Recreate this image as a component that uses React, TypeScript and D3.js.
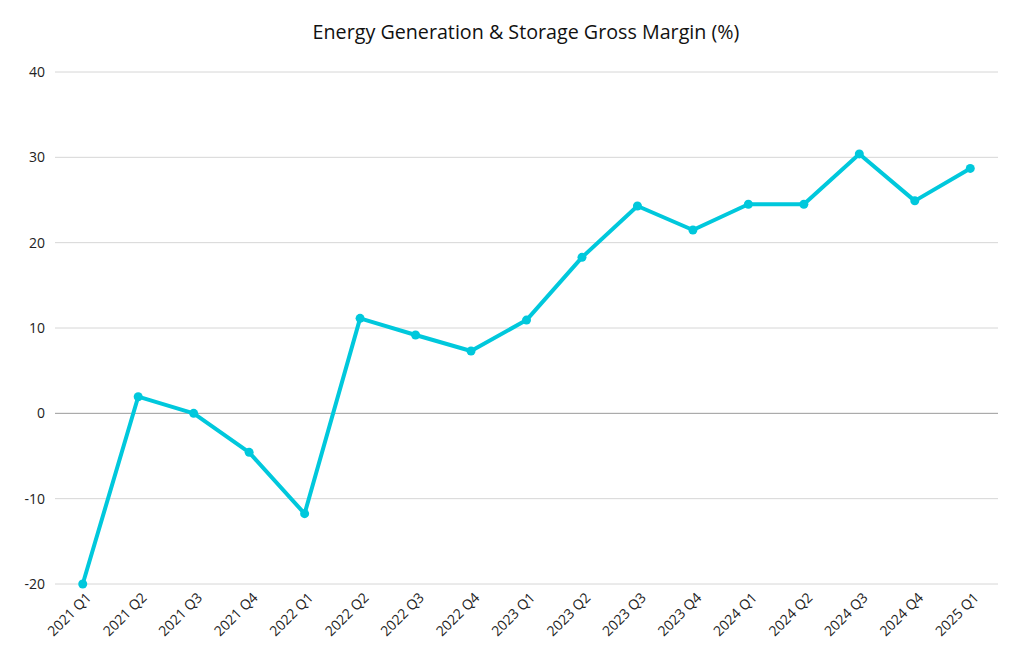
import { useEffect, useRef } from 'react'
import * as d3 from 'd3'

const quarters = [
  '2021 Q1', '2021 Q2', '2021 Q3', '2021 Q4',
  '2022 Q1', '2022 Q2', '2022 Q3', '2022 Q4',
  '2023 Q1', '2023 Q2', '2023 Q3', '2023 Q4',
  '2024 Q1', '2024 Q2', '2024 Q3', '2024 Q4',
  '2025 Q1'
]

const grossMargin = [
  -20, 1.95, 0, -4.57,
  -11.76, 11.13, 9.18, 7.3,
  10.93, 18.28, 24.3, 21.48,
  24.5, 24.5, 30.4, 24.9,
  28.7
]

const yTicks = [-20, -10, 0, 10, 20, 30, 40]

const title = 'Energy Generation & Storage Gross Margin (%)'

export default function App() {
  const svgRef = useRef<SVGSVGElement>(null)

  useEffect(() => {
    if (!svgRef.current) return

    const width = 1026
    const height = 664
    const margin = { top: 72, right: 28, bottom: 80, left: 55 }
    const font = '"Open Sans", "Noto Sans", sans-serif'

    const svg = d3.select(svgRef.current)
    svg.selectAll('*').remove()
    svg.attr('width', width).attr('height', height)

    const innerWidth = width - margin.left - margin.right
    const innerHeight = height - margin.top - margin.bottom

    const g = svg.append('g').attr('transform', `translate(${margin.left},${margin.top})`)

    const xScale = d3.scaleBand<string>().domain(quarters).range([0, innerWidth])
    const yScale = d3.scaleLinear().domain([-20, 40]).range([innerHeight, 0])
    const cx = (q: string) => (xScale(q) ?? 0) + xScale.bandwidth() / 2

    // Title
    svg.append('text')
      .attr('x', width / 2 + 13)
      .attr('y', 39)
      .attr('text-anchor', 'middle')
      .attr('font-family', font)
      .attr('font-size', 19.7)
      .attr('fill', '#111')
      .text(title)

    // Gridlines
    g.selectAll('.grid')
      .data(yTicks)
      .enter()
      .append('line')
      .attr('x1', 0)
      .attr('x2', innerWidth)
      .attr('y1', d => yScale(d))
      .attr('y2', d => yScale(d))
      .attr('stroke', d => (d === 0 ? '#9a9a9a' : '#d6d6d6'))
      .attr('stroke-width', 1)

    // Y labels
    g.selectAll('.ylab')
      .data(yTicks)
      .enter()
      .append('text')
      .attr('x', -10)
      .attr('y', d => yScale(d))
      .attr('dy', '0.35em')
      .attr('text-anchor', 'end')
      .attr('font-family', font)
      .attr('font-size', 14)
      .attr('fill', '#222')
      .text(d => d)

    // X labels
    g.selectAll('.xlab')
      .data(quarters)
      .enter()
      .append('text')
      .attr('transform', d => `translate(${cx(d) + 6},${innerHeight + 11}) rotate(-45)`)
      .attr('text-anchor', 'end')
      .attr('dy', '0.35em')
      .attr('font-family', font)
      .attr('font-size', 14)
      .attr('fill', '#222')
      .text(d => d)

    const points = quarters.map((q, i) => ({ q, v: grossMargin[i] }))

    const line = d3.line<{ q: string; v: number }>()
      .x(d => cx(d.q))
      .y(d => yScale(d.v))

    g.append('path')
      .datum(points)
      .attr('d', line)
      .attr('fill', 'none')
      .attr('stroke', '#00c8dc')
      .attr('stroke-width', 4)
      .attr('stroke-linejoin', 'round')

    g.selectAll('.pt')
      .data(points)
      .enter()
      .append('circle')
      .attr('cx', d => cx(d.q))
      .attr('cy', d => yScale(d.v))
      .attr('r', 4.5)
      .attr('fill', '#00c8dc')
  }, [])

  return <svg ref={svgRef} style={{ display: 'block', margin: -8 }} />
}
